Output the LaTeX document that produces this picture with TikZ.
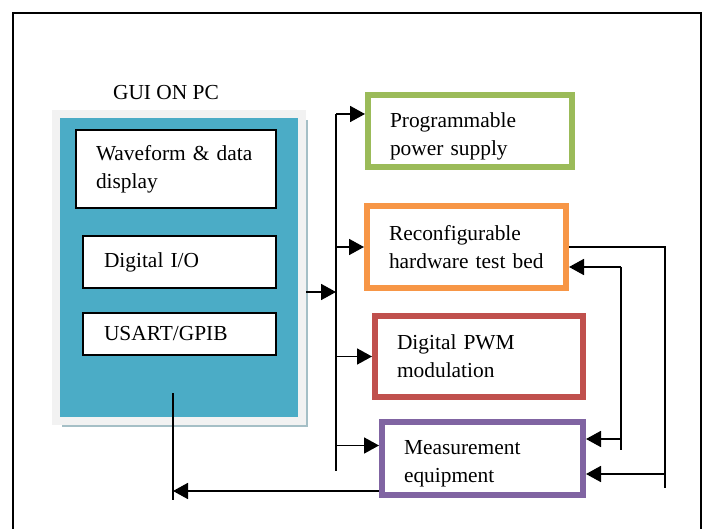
\documentclass[tikz,border=0pt]{standalone}
\usepackage{fontspec}
\setmainfont{Liberation Serif}
\usetikzlibrary{arrows.meta,shadows}

\definecolor{pcblue}{HTML}{4BACC6}
\definecolor{pcrim}{HTML}{F2F2F2}
\definecolor{pcshade}{HTML}{A5BFC6}
\definecolor{psugreen}{HTML}{9BBB59}
\definecolor{bedorange}{HTML}{F79646}
\definecolor{pwmred}{HTML}{C0504D}
\definecolor{measpurple}{HTML}{8064A2}

\newcommand{\droptext}{\rule{0pt}{12.4pt}}

\tikzstyle{txt} = [font=\fontsize{10.7}{14}\selectfont]
\tikzstyle{guibox} = [txt, draw=black, line width=1pt, fill=white, anchor=north west, align=left, inner xsep=10pt]
\tikzstyle{unit} = [txt, draw, line width=3pt, fill=white, anchor=north west, align=left, inner xsep=11pt]
\tikzstyle{wire} = [line width=0.9pt]
\tikzstyle{feed} = [wire, -{Triangle[length=7.5pt,width=8pt]}]

\begin{document}
\begin{tikzpicture}[x=0.5pt, y=-0.5pt]
\useasboundingbox (0,0) rectangle (707,529);
\draw[line width=1pt] (13,529) -- (13,13) -- (701,13) -- (701,529);

\node[txt] (gui) at (166,93) {GUI ON PC};
\node[draw=pcrim, fill=pcblue, line width=4pt, anchor=north west, minimum width=123pt, minimum height=153.5pt,
      drop shadow={shadow xshift=3pt, shadow yshift=-3pt, fill=pcshade, opacity=1}] (pc) at (52,110) {};
\node[guibox, minimum width=100pt, minimum height=39pt, text width=80pt] (wave) at (75,129) {Waveform \& data\\display};
\node[guibox, minimum width=96.5pt, minimum height=26pt, text width=75.5pt] (dio) at (82,235) {Digital I/O};
\node[guibox, minimum width=96.5pt, minimum height=21pt, text width=75.5pt] (usart) at (82,312) {USART/GPIB};

\node[unit, draw=psugreen, minimum width=102pt, minimum height=36pt, text width=80pt] (psu) at (365,92) {\droptext Programmable\\power supply};
\node[unit, draw=bedorange, minimum width=99.5pt, minimum height=41pt, text width=77.5pt] (hwbed) at (364,203) {Reconfigurable\\hardware test bed};
\node[unit, draw=pwmred, minimum width=104pt, minimum height=40.5pt, text width=82pt] (pwm) at (372,313) {Digital PWM\\modulation};
\node[unit, draw=measpurple, minimum width=100.5pt, minimum height=36.5pt, text width=78.5pt] (meas) at (379,419) {\droptext Measurement\\equipment};

\coordinate (bustop) at (336,114);
\coordinate (busbot) at (336,471);
\coordinate (tap) at (336,292);
\coordinate (measin) at ([yshift=6.5pt]meas.west);
\draw[wire] (bustop) -- (busbot);
\draw[feed] (pc.east |- tap) -- (tap);
\draw[feed] (bustop) -- (bustop -| psu.west);
\draw[feed] (bustop |- hwbed.west) -- (hwbed.west);
\draw[feed] (bustop |- pwm.west) -- (pwm.west);
\draw[feed] (bustop |- measin) -- (measin);

\coordinate (loopRbot) at (665,488);
\coordinate (loopRtap) at (665,474);
\draw[wire] (hwbed.east) -| (loopRbot);
\draw[feed] (loopRtap) -- (loopRtap -| meas.east);

\coordinate (loopLtop) at (621,267);
\coordinate (loopLbot) at (621,450);
\coordinate (loopLtap) at (621,439);
\draw[wire] (loopLtop) -- (loopLbot);
\draw[feed] (loopLtop) -- (loopLtop -| hwbed.east);
\draw[feed] (loopLtap) -- (loopLtap -| meas.east);

\coordinate (retTop) at (173,393);
\coordinate (retBot) at (173,500);
\coordinate (retTap) at (173,491);
\draw[wire] (retTop) -- (retBot);
\draw[feed] (retTap -| meas.west) -- (retTap);
\end{tikzpicture}
\end{document}
